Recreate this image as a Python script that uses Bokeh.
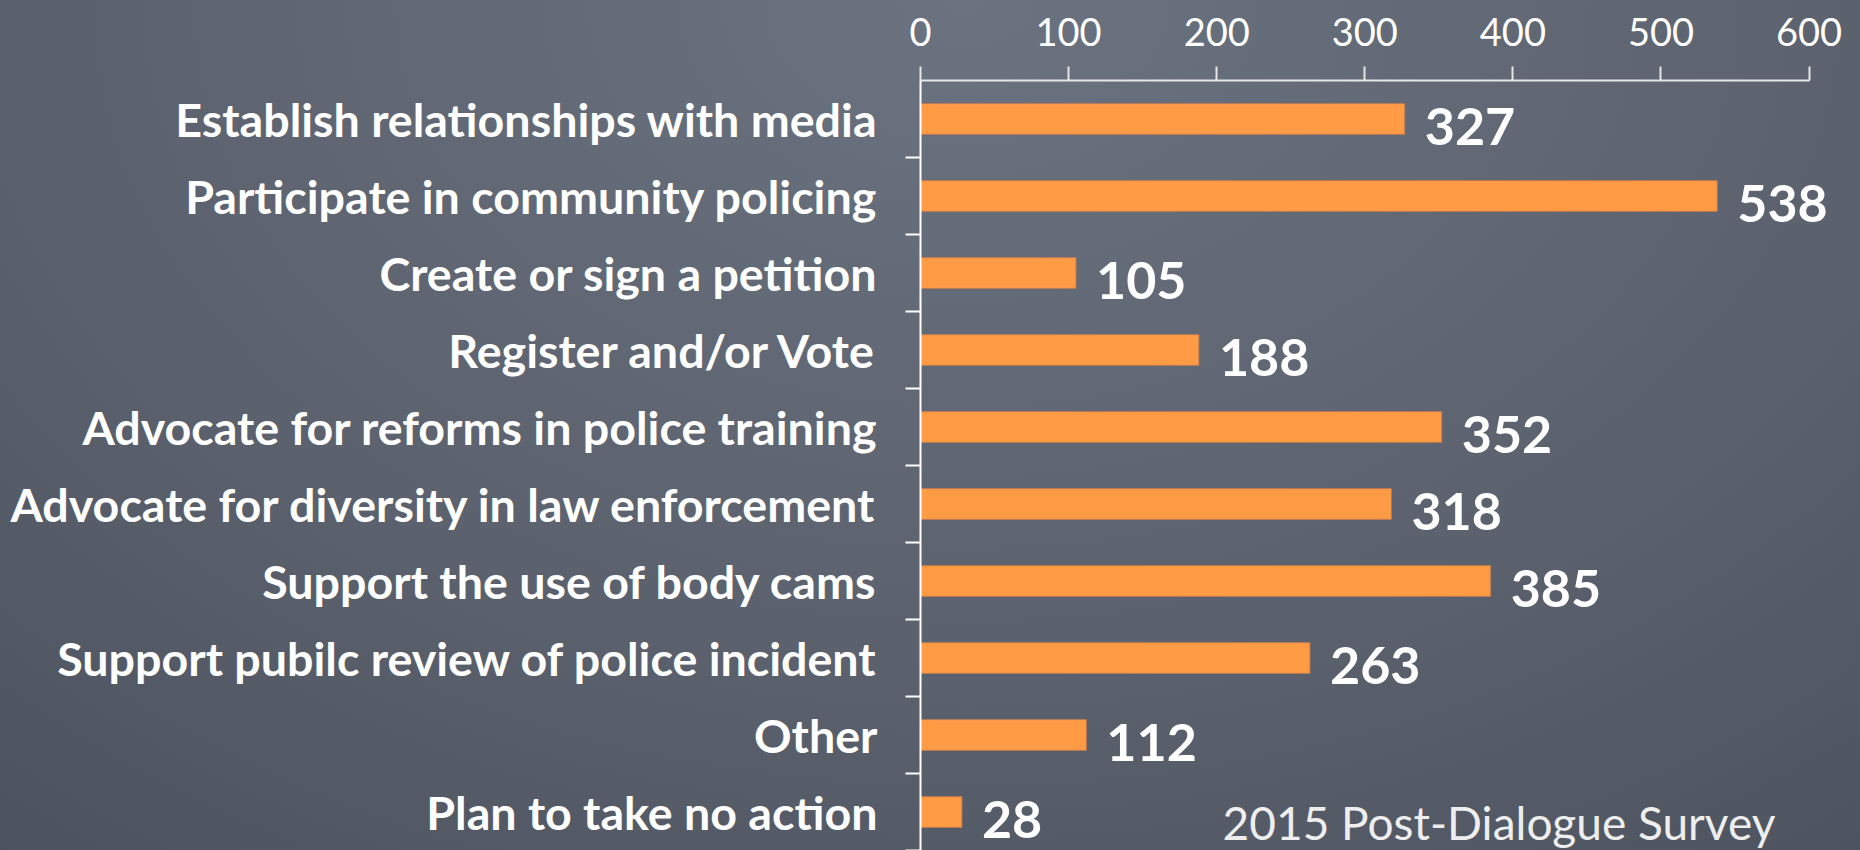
from bokeh.plotting import figure
from bokeh.models import ColumnDataSource, LabelSet, Label, Range1d, FixedTicker, LinearAxis
from bokeh.core.properties import value
from bokeh.embed import file_html
from bokeh.resources import INLINE

categories = [
    "Establish relationships with media",
    "Participate in community policing",
    "Create or sign a petition",
    "Register and/or Vote",
    "Advocate for reforms in police training",
    "Advocate for diversity in law enforcement",
    "Support the use of body cams",
    "Support pubilc review of police incident",
    "Other",
    "Plan to take no action",
]
counts = [327, 538, 105, 188, 352, 318, 385, 263, 112, 28]
x_ticks = [0, 100, 200, 300, 400, 500, 600]
footer = "2015 Post-Dialogue Survey"

pos = list(range(len(categories)))
src = ColumnDataSource(dict(cat=categories, y=pos, v=counts, lab=[str(c) for c in counts]))

p = figure(width=1860, height=850, output_backend="svg", toolbar_location=None,
           x_range=Range1d(0, 630), y_range=Range1d(len(categories) - 0.5, -0.5),
           x_axis_location="above", y_axis_location=None,
           min_border_left=920, min_border_right=7, min_border_top=80, min_border_bottom=0)
p.outline_line_color = None
p.background_fill_alpha = 0
p.border_fill_alpha = 0
p.styles = {"background": "radial-gradient(ellipse 90% 140% at 52% 0%, #6b7380 0%, #5b616d 55%, #4a505b 100%)"}
p.grid.visible = False

p.hbar(y="y", right="v", left=0, height=0.4, source=src, fill_color="#ff9a45",
       line_color="#b87a52", line_width=1)

xa = p.xaxis[0]
xa.ticker = FixedTicker(ticks=x_ticks)
xa.bounds = (0, 600)
xa.axis_line_color = "#e6e6e6"
xa.axis_line_width = 2
xa.major_tick_line_color = "#e6e6e6"
xa.major_tick_line_width = 2
xa.major_tick_out = 14
xa.major_tick_in = 0
xa.minor_tick_line_color = None
xa.major_label_standoff = 21
xa.major_label_text_font = "Lato"
xa.major_label_text_font_size = "38px"
xa.major_label_text_color = "#ffffff"

ya = LinearAxis(ticker=FixedTicker(ticks=pos, minor_ticks=[i + 0.5 for i in pos]))
ya.major_label_overrides = {i: c for i, c in zip(pos, categories)}
ya.axis_line_color = "#ffffff"
ya.axis_line_width = 2
ya.major_tick_out = 0
ya.major_tick_in = 0
ya.major_tick_line_color = None
ya.minor_tick_out = 15
ya.minor_tick_in = 0
ya.minor_tick_line_color = "#ffffff"
ya.minor_tick_line_width = 2
ya.major_label_standoff = 28
ya.major_label_text_font = "Lato"
ya.major_label_text_font_style = "bold"
ya.major_label_text_font_size = "46.6px"
ya.major_label_text_color = "#ffffff"
p.add_layout(ya, "left")

labels = LabelSet(x="v", y="y", text="lab", source=src, x_offset=20, y_offset=-26,
                  text_font=value("Lato"), text_font_style="bold", text_font_size="52px",
                  text_color="#ffffff", text_baseline="alphabetic", text_align="left")
p.add_layout(labels)

p.add_layout(Label(x=204, y=9.49, text=footer, text_font="Lato", text_font_size="46px",
                   text_color="#eeeeee", text_baseline="bottom", text_align="left"))

open("out.html", "w").write(file_html(p, INLINE))
